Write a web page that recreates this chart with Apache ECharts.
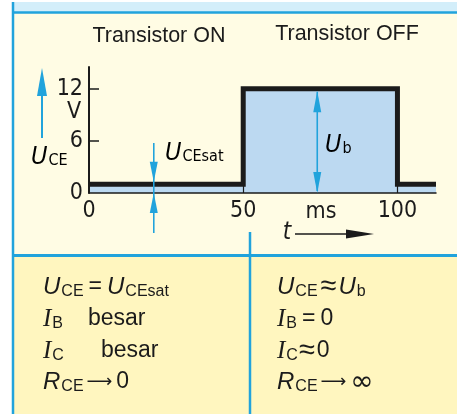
<!DOCTYPE html>
<html>
<head>
<meta charset="utf-8">
<script src="https://cdn.jsdelivr.net/npm/echarts@6/dist/echarts.min.js"></script>
<style>
  html, body { margin: 0; padding: 0; background: #ffffff; }
  #chart { width: 457px; height: 414px; }
</style>
</head>
<body>
<div id="chart"></div>
<script>
// Collector-emitter voltage of a transistor switched ON (0-50 ms) and OFF (50-100 ms)
const timeMs = [0, 50, 100, 112.5];
const uceVolts = [1, 12, 1, 1];
const xTickValues = [0, 50, 100];
const yTickValues = [0, 6, 12];
const stateTitles = ['Transistor ON', 'Transistor OFF'];
const unitVolt = 'V';
const unitTime = 'ms';
const timeSymbol = 't';
// where the two voltage arrows sit along the time axis (ms)
const satArrowAt = 21;
const supplyArrowAt = 74;
// summary of each state
const onStateLines = [
  '{u|U}{s|CE}{eq|=}{u|U}{s|CEsat}',
  '{i|I}{s|B}{b1|besar}',
  '{i|I}{s|C}{b2|besar}',
  '{u|R}{s|CE}{ar|⟶}{t|0}'
];
const offStateLines = [
  '{u|U}{s|CE}{ap|≈}{u|U}{s|b}',
  '{i|I}{s|B}{eq|=}{t|0}',
  '{i|I}{s|C}{ap2|≈}{t|0}',
  '{u|R}{s|CE}{ar|⟶}{inf|∞}'
];

const BLUE = '#21a3dc';
const INK = '#1b1b1b';
const NARROW = "'Liberation Sans Narrow', 'DejaVu Sans Condensed', sans-serif";
const SANS = "'Liberation Sans', Arial, sans-serif";
const SERIF = "'Liberation Serif', 'Times New Roman', serif";
const DEJAVU = "'DejaVu Sans', sans-serif";

const chart = echarts.init(document.getElementById('chart'), null, { renderer: 'canvas' });

chart.setOption({
  backgroundColor: '#ffffff',
  animation: false,
  grid: { left: 89, right: 21, top: 67, bottom: 221, containLabel: false },
  xAxis: {
    type: 'value', min: 0, max: 112.5, z: 4,
    splitLine: { show: false },
    axisLine: { lineStyle: { color: INK, width: 1.5 } },
    axisTick: { inside: true, length: 7, customValues: [50, 100], lineStyle: { color: INK, width: 1.2 } },
    axisLabel: { customValues: xTickValues, margin: 7, color: INK, fontSize: 23, fontFamily: NARROW }
  },
  yAxis: {
    type: 'value', min: 0, max: 14.5, z: 4,
    splitLine: { show: false },
    axisLine: { show: true, lineStyle: { color: INK, width: 2 } },
    axisTick: { inside: true, length: 10, customValues: [6, 12], lineStyle: { color: INK, width: 1.5 } },
    axisLabel: { customValues: yTickValues, margin: 6, color: INK, fontSize: 23, fontFamily: NARROW }
  },
  series: [{
    type: 'line',
    step: 'end',
    data: timeMs.map((t, i) => [t, uceVolts[i]]),
    symbol: 'none',
    lineStyle: { color: INK, width: 5, cap: 'butt', join: 'miter' },
    areaStyle: { color: '#bcd9f1', opacity: 1 },
    z: 2
  }]
});

const px = (t, v) => chart.convertToPixel({ gridIndex: 0 }, [t, v]);

function head(x, tipY, up, len, hw, color) {
  const baseY = up ? tipY + len : tipY - len;
  return {
    type: 'polygon', z: 10, silent: true,
    shape: { points: [[x, tipY], [x - hw, baseY], [x + hw, baseY]] },
    style: { fill: color }
  };
}
function vline(x, y1, y2, color, w) {
  return { type: 'line', z: 10, silent: true, shape: { x1: x, y1: y1, x2: x, y2: y2 }, style: { stroke: color, lineWidth: w } };
}
function hline(x1, x2, y, color, w, z) {
  return { type: 'line', z: z, silent: true, shape: { x1: x1, y1: y, x2: x2, y2: y }, style: { stroke: color, lineWidth: w } };
}
function rect(x, y, w, h, fill, z) {
  return { type: 'rect', z: z, silent: true, shape: { x: x, y: y, width: w, height: h }, style: { fill: fill } };
}

const richBottom = {
  u: { fontFamily: SANS, fontStyle: 'italic', fontSize: 24, color: INK },
  i: { fontFamily: SERIF, fontStyle: 'italic', fontSize: 25, color: INK },
  s: { fontFamily: SANS, fontSize: 16, color: INK, padding: [9, 0, 0, 1] },
  t: { fontFamily: SANS, fontSize: 23, color: INK },
  eq: { fontFamily: SANS, fontSize: 23, color: INK, padding: [0, 5, 0, 5] },
  ap: { fontFamily: SANS, fontSize: 29, color: INK, padding: [0, 2, 0, 3] },
  ap2: { fontFamily: SANS, fontSize: 29, color: INK, padding: [0, 2, 0, 1] },
  b1: { fontFamily: SANS, fontSize: 23, color: INK, padding: [0, 0, 0, 25] },
  b2: { fontFamily: SANS, fontSize: 23, color: INK, padding: [0, 0, 0, 37] },
  ar: { fontFamily: DEJAVU, fontSize: 18, color: INK, padding: [0, 4, 0, 3] },
  inf: { fontFamily: DEJAVU, fontSize: 28, color: INK, padding: [2, 0, 0, 0] }
};
function bottomText(x, y, str) {
  return {
    type: 'text', z: 10, silent: true, x: x, y: y,
    style: { text: str, rich: richBottom, fontFamily: SANS, fontSize: 23, fill: INK, verticalAlign: 'middle', align: 'left' }
  };
}

const richBlue = {
  u: { fontFamily: NARROW, fontStyle: 'italic', fontSize: 25, color: BLUE },
  s: { fontFamily: NARROW, fontSize: 16, color: BLUE, padding: [7, 0, 0, 1] }
};
function blueLabel(x, y, str) {
  return {
    type: 'text', z: 10, silent: true, x: x, y: y,
    style: { text: str, rich: richBlue, verticalAlign: 'middle', align: 'left' }
  };
}

const lowY = px(0, uceVolts[0])[1];
const highY = px(0, uceVolts[1])[1];
const zeroY = px(0, 0)[1];
const satX = px(satArrowAt, 0)[0];
const supX = px(supplyArrowAt, 0)[0];

const g = [];
// panels and frame
g.push(rect(12, 2, 445, 10, '#d3eefa', -20));
g.push(rect(13, 12, 444, 244, '#fffce4', -20));
g.push(rect(13, 256, 444, 158, '#fff6bf', -20));
g.push(hline(12, 457, 12.5, BLUE, 2.5, -10));
g.push(hline(12, 457, 255.5, BLUE, 3, -10));
g.push(vline(13, 2, 414, BLUE, 2.5));
g.push(vline(250, 232, 414, BLUE, 2.5));

// state titles
g.push({ type: 'text', z: 10, x: 159, y: 36, style: { text: stateTitles[0], fontFamily: SANS, fontSize: 21.5, fill: INK, align: 'center', verticalAlign: 'middle' } });
g.push({ type: 'text', z: 10, x: 347, y: 34, style: { text: stateTitles[1], fontFamily: SANS, fontSize: 21.5, fill: INK, align: 'center', verticalAlign: 'middle' } });

// axis units
g.push({ type: 'text', z: 10, x: 74, y: 112, style: { text: unitVolt, fontFamily: NARROW, fontSize: 23, fill: INK, align: 'center', verticalAlign: 'middle' } });
g.push({ type: 'text', z: 10, x: 321, y: 212, style: { text: unitTime, fontFamily: NARROW, fontSize: 23, fill: INK, align: 'center', verticalAlign: 'middle' } });
g.push({ type: 'text', z: 10, x: 287, y: 233, style: { text: timeSymbol, fontFamily: NARROW, fontStyle: 'italic', fontSize: 24, fill: INK, align: 'center', verticalAlign: 'middle' } });
g.push(hline(295, 360, 234, INK, 1.5, 10));
g.push({ type: 'polygon', z: 10, shape: { points: [[374, 234], [346, 229.5], [346, 238.5]] }, style: { fill: INK } });

// U_CE direction arrow on the left
g.push(vline(42, 92, 138, BLUE, 2));
g.push(head(42, 68, true, 28, 5, BLUE));
g.push(blueLabel(31, 157, '{u|U}{s|CE}'));

// saturation voltage arrows
g.push(vline(satX, 143, 233, BLUE, 1.6));
g.push(head(satX, lowY - 2.5, false, 20, 4, BLUE));
g.push(head(satX, zeroY, true, 20, 4, BLUE));
g.push(blueLabel(165, 153, '{u|U}{s|CEsat}'));

// supply voltage double arrow
g.push(vline(supX, highY + 3, zeroY - 2, BLUE, 1.6));
g.push(head(supX, highY + 2.5, true, 21, 4, BLUE));
g.push(head(supX, zeroY, false, 21, 4, BLUE));
g.push(blueLabel(325, 145, '{u|U}{s|b}'));

// state summaries
const rowY = [287, 319, 351, 382];
onStateLines.forEach((s, k) => g.push(bottomText(43, rowY[k], s)));
offStateLines.forEach((s, k) => g.push(bottomText(277, rowY[k], s)));

chart.setOption({ graphic: { elements: g } });
</script>
</body>
</html>
